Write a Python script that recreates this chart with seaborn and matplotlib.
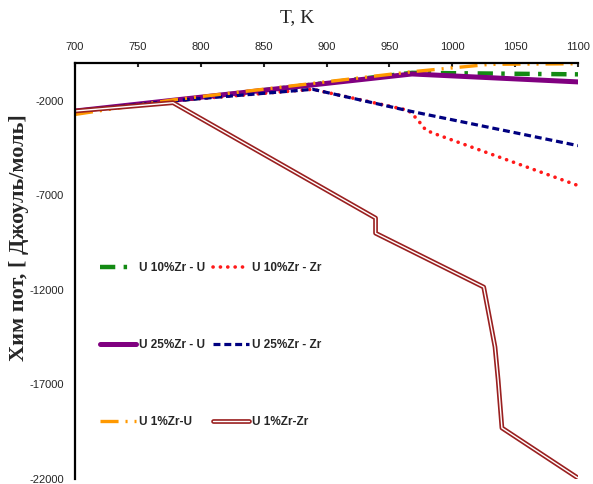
import matplotlib
matplotlib.use("Agg")
import matplotlib.pyplot as plt
import matplotlib.patheffects as pe
import seaborn as sns

# temperatures (K) and chemical potentials (J/mol)
t_u10_u = [700, 778, 968, 1100]
v_u10_u = [-2560, -2000, -520, -600]

t_u10_zr = [700, 778, 889, 965, 972, 979, 986, 1100]
v_u10_zr = [-2540, -2000, -1390, -2500, -2960, -3550, -3740, -6480]

t_u25_u = [700, 968, 1100]
v_u25_u = [-2540, -580, -1000]

t_u25_zr = [700, 778, 889, 966, 1100]
v_u25_zr = [-2540, -2000, -1390, -2540, -4370]

t_u1_u = [700, 778, 968, 1030, 1100]
v_u1_u = [-2720, -1950, -460, -70, -40]

t_u1_zr = [700, 778, 939, 939, 1025, 1030, 1034, 1036.5, 1039.5, 1100]
v_u1_zr = [-2540, -2100, -8200, -9000, -11850, -13600, -15020, -16770, -19300, -21950]

x_ticks = [700, 750, 800, 850, 900, 950, 1000, 1050, 1100]
y_ticks = [-22000, -17000, -12000, -7000, -2000]

sns.set_style("white")
plt.rcParams['font.family'] = ['Liberation Sans', 'DejaVu Sans']
plt.rcParams['lines.scale_dashes'] = False
plt.rcParams['axes.unicode_minus'] = False

fig = plt.figure(figsize=(5.93, 4.84), dpi=100)
ax = fig.add_axes([75 / 593, 1 - 479 / 484, 503 / 593, 416 / 484])

kw = dict(ax=ax, estimator=None, sort=False)
sns.lineplot(x=t_u10_u, y=v_u10_u, color='#138a13', lw=3.2,
             linestyle=(0, (11, 6, 2.5, 7)), label='U 10%Zr - U', **kw)
sns.lineplot(x=t_u10_zr, y=v_u10_zr, color='#ff1a1a', lw=2.6,
             linestyle=(0, (0.1, 5.2)), dash_capstyle='round', label='U 10%Zr - Zr', **kw)
sns.lineplot(x=t_u25_u, y=v_u25_u, color='#800080', lw=3.6,
             label='U 25%Zr - U', **kw)
sns.lineplot(x=t_u25_zr, y=v_u25_zr, color='#000080', lw=2.3,
             linestyle=(0, (5, 2.8)), label='U 25%Zr - Zr', **kw)
sns.lineplot(x=t_u1_u, y=v_u1_u, color='#ff9900', lw=2.4,
             linestyle=(0, (13, 5, 1.5, 5, 1.5, 5)), label='U 1%Zr-U', **kw)
sns.lineplot(x=t_u1_zr, y=v_u1_zr, color='white', lw=1.0,
             path_effects=[pe.Stroke(linewidth=3.4, foreground='#9a2020'), pe.Normal()],
             label='U 1%Zr-Zr', **kw)

ax.set_xlim(700, 1100)
ax.set_ylim(-22000, 0)
ax.set_xticks(x_ticks)
ax.set_yticks(y_ticks)
ax.xaxis.tick_top()
ax.tick_params(axis='x', direction='in', length=3, width=1.5, pad=8, labelsize=8)
ax.tick_params(axis='y', direction='out', length=4, width=1.5, pad=4, labelsize=8)
ax.set_xlabel('')
ax.set_ylabel('')
for side in ['bottom', 'right']:
    ax.spines[side].set_visible(False)
for side in ['left', 'top']:
    ax.spines[side].set_color('black')
    ax.spines[side].set_linewidth(1.6)

handles, labels = ax.get_legend_handles_labels()
order = [0, 2, 4, 1, 3, 5]
leg = ax.legend([handles[i] for i in order], [labels[i] for i in order],
                ncol=2, loc='center left', bbox_to_anchor=(0.05, 0.322),
                frameon=False, borderpad=0, borderaxespad=0,
                handlelength=3.0, handletextpad=0.3, columnspacing=0.7,
                labelspacing=5.48, prop={'family': 'Liberation Sans', 'weight': 'bold', 'size': 8.5})

fig.text(297 / 593, 1 - 18 / 484, 'T, K', ha='center', va='center',
         family='Liberation Serif', fontsize=14)
fig.text(19 / 593, 1 - 238 / 484, 'Хим пот, [ Джоуль/моль]', ha='center', va='center',
         rotation=90, family='Liberation Serif', fontweight='bold', fontsize=16)

fig.savefig('out.png', dpi=100)
